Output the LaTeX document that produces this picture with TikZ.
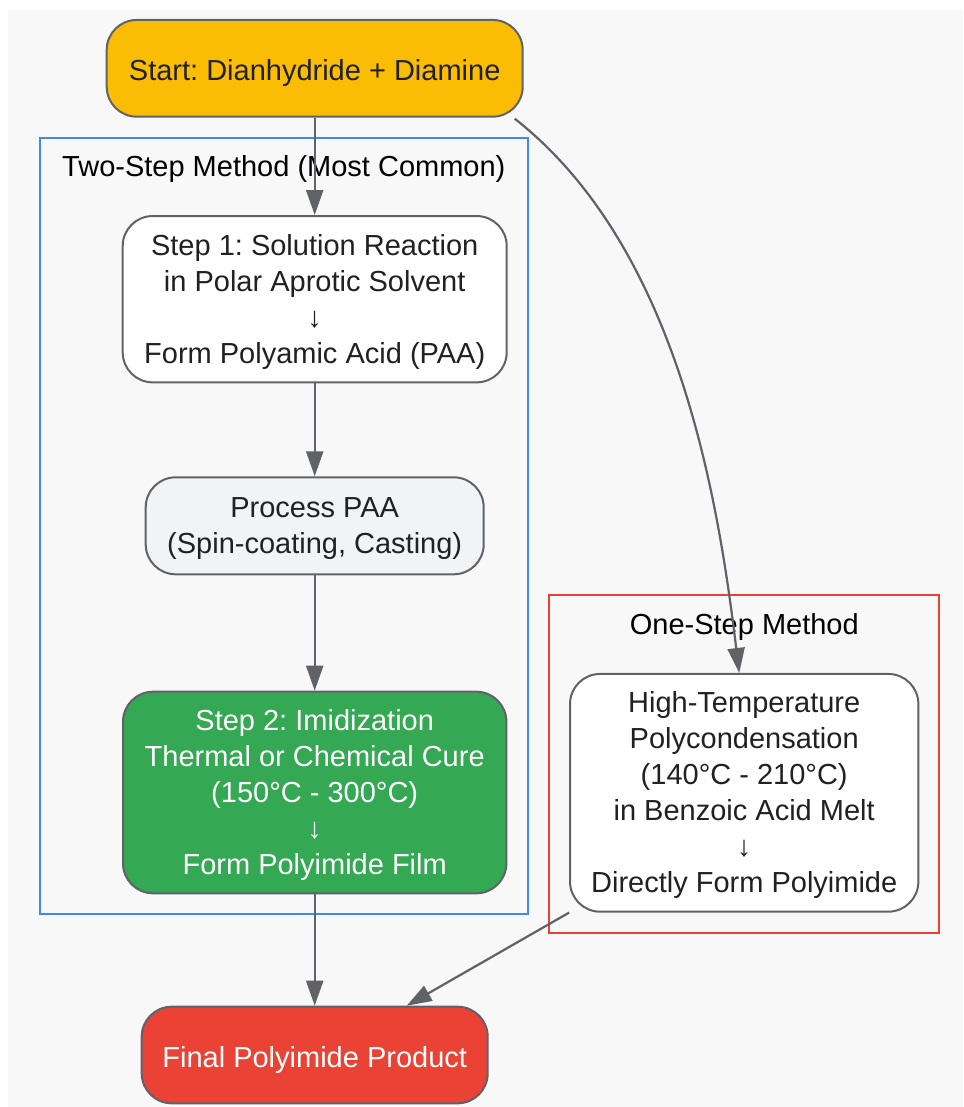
\documentclass[tikz,border=0pt]{standalone}
\usepackage{fontspec}
\setmainfont{Liberation Sans}
\frenchspacing
\usetikzlibrary{arrows.meta}

\definecolor{edgegray}{HTML}{5F6368}
\definecolor{ink}{HTML}{202124}
\definecolor{bg}{HTML}{F8F8F8}
\definecolor{startyellow}{HTML}{FBBC04}
\definecolor{paagray}{HTML}{F1F3F4}
\definecolor{curegreen}{HTML}{34A853}
\definecolor{finalred}{HTML}{EA4335}
\definecolor{twoblue}{HTML}{4285F4}

\newcommand\leadstrut{\rule{0pt}{30pt}}

\tikzset{
    box/.style={draw=edgegray, line width=2pt, rounded corners=30pt, align=center, inner sep=0pt,
        text=ink, font=\fontsize{29}{36}\selectfont\frenchspacing,
        execute at begin node=\rule[-10pt]{0pt}{45pt},
        execute at end node=\rule[-10pt]{0pt}{36pt}},
    flow/.style={draw=edgegray, line width=2.2pt, -{Triangle[length=25pt,width=17pt]}},
    group/.style={line width=2pt},
    grouptitle/.style={font=\fontsize{29}{36}\selectfont, text=black, inner sep=0pt,
        text height=26pt, text depth=10pt},
}

\begin{document}
\begin{tikzpicture}[x=1pt, y=-1pt]

    \useasboundingbox (0,0) rectangle (963,1107);
    \fill[bg] (8,10) rectangle (963,1107);

    \draw[group, draw=twoblue] (40,137.7) rectangle (527.7,914.3);
    \draw[group, draw=finalred] (549.3,595) rectangle (939.3,932.7);
    \node[grouptitle] (twotitle) at (283.8,168.7) {Two-Step Method (Most Common)};
    \node[grouptitle] (onetitle) at (744.3,626) {One-Step Method};

    \node[box, fill=startyellow, minimum width=416pt, minimum height=96.7pt] (start) at (314.7,68.3) {Start: Dianhydride + Diamine};
    \node[box, fill=white, minimum width=384pt, minimum height=166.3pt] (step1) at (314.7,299.2) {\leadstrut Step 1: Solution Reaction\\in Polar Aprotic Solvent\\↓\\Form Polyamic Acid (PAA)};
    \node[box, fill=paagray, minimum width=338pt, minimum height=97pt] (paa) at (314.7,525.8) {\leadstrut Process PAA\\(Spin-coating, Casting)};
    \node[box, fill=curegreen, text=white, minimum width=383.4pt, minimum height=201.6pt] (cure) at (314.7,792.5) {\leadstrut Step 2: Imidization\\Thermal or Chemical Cure\\(150°C - 300°C)\\↓\\Form Polyimide Film};
    \node[box, fill=finalred, text=white, minimum width=346pt, minimum height=96.6pt] (final) at (314.7,1055) {Final Polyimide Product};
    \node[box, fill=white, minimum width=348.3pt, minimum height=237.7pt] (onestep) at (744.2,792.8) {\leadstrut High-Temperature\\Polycondensation\\(140°C - 210°C)\\in Benzoic Acid Melt\\↓\\Directly Form Polyimide};

    \foreach \a/\b in {start/step1, step1/paa, paa/cure, cure/final}
        \draw[flow] (\a.south) -- (\b.north);
    \draw[flow] ([xshift=-9pt,yshift=-1pt]start.south east) .. controls (678,247) and (718,498) .. ([xshift=-5pt]onestep.north);
    \draw[flow] (onestep.south west) -- ([xshift=92pt]final.north);

\end{tikzpicture}
\end{document}
